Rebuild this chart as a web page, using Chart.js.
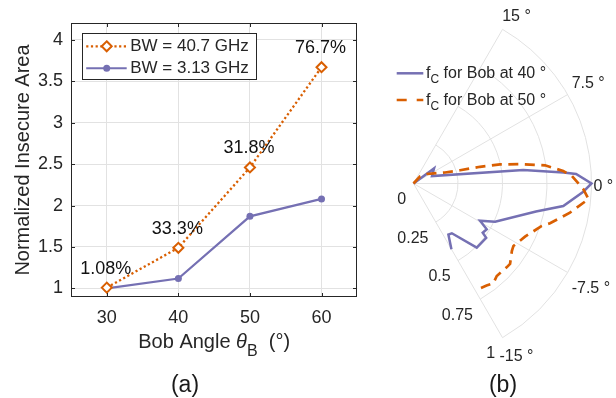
<!DOCTYPE html>
<html><head><meta charset="utf-8">
<script src="https://cdn.jsdelivr.net/npm/chart.js@4/dist/chart.umd.min.js"></script>
<style>
html,body{margin:0;padding:0;background:#fff;width:616px;height:398px;overflow:hidden;}
#wrap{position:relative;width:616px;height:398px;font-family:"Liberation Sans",Arial,sans-serif;color:#1a1a1a;}
#c1{position:absolute;left:0;top:0;width:370px;height:398px;}
#c2{position:absolute;left:370px;top:0;width:246px;height:398px;}
.cap{position:absolute;font-size:23px;line-height:23px;transform:translate(-50%,-50%);white-space:nowrap;}
</style></head><body>
<div id="wrap">
<canvas id="c1" width="370" height="398"></canvas>
<canvas id="c2" width="246" height="398"></canvas>
<div class="cap" style="left:185px;top:384px">(a)</div>
<div class="cap" style="left:503px;top:384px">(b)</div>
</div>
<script>
// ---------- data: panel (a) ----------
const bobAngles = [30, 40, 50, 60];
const wideBW = [1.01, 1.49, 2.46, 3.67];     // BW = 40.7 GHz
const narrowBW = [1.00, 1.12, 1.87, 2.08];   // BW = 3.13 GHz
const gainLabels = ['1.08%', '33.3%', '31.8%', '76.7%'];
const seriesNames = ['BW = 40.7 GHz', 'BW = 3.13 GHz'];
const xTicks = [30, 40, 50, 60];
const yTicks = [1, 1.5, 2, 2.5, 3, 3.5, 4];
const gainLabelOffset = 0.23;

// ---------- data: panel (b) (theta in degrees, normalized radius) ----------
const bob40Theta = [10, 9.05, 5.5, 1.75, 1.05, 0.84, 0, -0.69, -2.14, -3.22, -6.28, -7.3, -8.0, -8.85, -9.2, -11.35, -13.1, -13.9, -15];
const bob40R     = [0, 0.143, 0.112, 0.621, 0.844, 0.915, 1.0, 0.955, 0.851, 0.706, 0.506, 0.428, 0.485, 0.477, 0.510, 0.506, 0.353, 0.347, 0.426];
const bob50Theta = [10, 11.8, 8.8, 4.8, 3.96, 3.53, 3.1, 2.59, 1.97, 1.19, 0.68, -0.46, -1.27, -2.64, -4.06, -4.58, -6.37, -8.0, -8.6, -9.95, -10.5, -12.0, -12.85, -13.6, -15];
const bob50R     = [0, 0.054, 0.093, 0.188, 0.272, 0.385, 0.498, 0.608, 0.746, 0.844, 0.891, 0.954, 0.987, 0.894, 0.799, 0.759, 0.694, 0.662, 0.67, 0.706, 0.704, 0.699, 0.718, 0.705, 0.693];
const polarNames = ['for Bob at 40 °', 'for Bob at 50 °'];
const thetaTicks = [15, 7.5, 0, -7.5, -15];
const rTicks = [0, 0.25, 0.5, 0.75, 1];
const thetaStretch = 4; // the ±15° sector is drawn spanning ±60°

const FF = '"Liberation Sans", Arial, sans-serif';
const ORANGE = '#d95f02', PURPLE = '#7570b3', INK = '#262626', GRID = '#e2e2e2';

function richText(ctx, parts, x, baseline, align) {
  let total = 0;
  parts.forEach(p => { ctx.font = p.font; p.w = ctx.measureText(p.t).width; total += p.w + (p.gap || 0); });
  let cx = align === 'center' ? x - total / 2 : x;
  ctx.textAlign = 'left'; ctx.textBaseline = 'alphabetic';
  parts.forEach(p => { ctx.font = p.font; ctx.fillText(p.t, cx, baseline + (p.dy || 0)); cx += p.w + (p.gap || 0); });
}

// ---------- panel (a) ----------
const leftDecor = {
  id: 'leftDecor',
  afterDraw(chart) {
    const {ctx, chartArea: a, scales: {x, y}} = chart;
    ctx.save();
    const L = Math.round(a.left) + 0.5, T = Math.round(a.top) + 0.5, R = Math.round(a.right) - 0.5, B = Math.round(a.bottom) - 0.5;
    ctx.strokeStyle = INK; ctx.lineWidth = 1;
    ctx.strokeRect(L, T, R - L, B - T);
    const tl = 3.5;
    ctx.beginPath();
    xTicks.forEach(v => { const p = Math.round(x.getPixelForValue(v)) + 0.5; ctx.moveTo(p, B); ctx.lineTo(p, B - tl); ctx.moveTo(p, T); ctx.lineTo(p, T + tl); });
    yTicks.forEach(v => { const p = Math.round(y.getPixelForValue(v)) + 0.5; ctx.moveTo(L, p); ctx.lineTo(L + tl, p); ctx.moveTo(R, p); ctx.lineTo(R - tl, p); });
    ctx.stroke();
    // gain annotations
    ctx.fillStyle = '#111'; ctx.font = '18px ' + FF; ctx.textAlign = 'center'; ctx.textBaseline = 'middle';
    bobAngles.forEach((v, i) => ctx.fillText(gainLabels[i], x.getPixelForValue(v) - 1, y.getPixelForValue(wideBW[i] + gainLabelOffset)));
    // x title with subscript
    ctx.fillStyle = INK;
    richText(ctx, [
      {t: 'Bob Angle ', font: '20px ' + FF},
      {t: 'θ', font: 'italic 20px ' + FF},
      {t: 'B', font: '16px ' + FF, dy: 8},
      {t: '  (°)', font: '20px ' + FF}
    ], (a.left + a.right) / 2, a.bottom + 51, 'center');
    // legend
    const lx = a.left + 10.7, ly = a.top + 10;
    ctx.fillStyle = '#fff'; ctx.fillRect(lx, ly, 174.3, 46.7);
    ctx.strokeStyle = INK; ctx.lineWidth = 1;
    ctx.strokeRect(Math.round(lx) + 0.5, Math.round(ly) + 0.5, 174, 46);
    const rows = [ly + 13, ly + 35];
    const x0 = lx + 4.5, x1 = lx + 45, xm = lx + 25;
    // row 1
    ctx.strokeStyle = ORANGE; ctx.lineWidth = 2.3; ctx.setLineDash([2.2, 2.5]);
    ctx.beginPath(); ctx.moveTo(x0, rows[0]); ctx.lineTo(x1, rows[0]); ctx.stroke();
    ctx.setLineDash([]); ctx.lineWidth = 2; ctx.fillStyle = '#fff';
    ctx.beginPath(); ctx.moveTo(xm, rows[0] - 5); ctx.lineTo(xm + 5, rows[0]); ctx.lineTo(xm, rows[0] + 5); ctx.lineTo(xm - 5, rows[0]); ctx.closePath(); ctx.fill(); ctx.stroke();
    // row 2
    ctx.strokeStyle = PURPLE; ctx.lineWidth = 2;
    ctx.beginPath(); ctx.moveTo(x0, rows[1]); ctx.lineTo(x1, rows[1]); ctx.stroke();
    ctx.fillStyle = PURPLE; ctx.beginPath(); ctx.arc(xm, rows[1], 3.5, 0, Math.PI * 2); ctx.fill();
    ctx.fillStyle = INK; ctx.font = '17px ' + FF; ctx.textAlign = 'left'; ctx.textBaseline = 'middle';
    seriesNames.forEach((s, i) => ctx.fillText(s, lx + 48.5, rows[i]));
    ctx.restore();
  }
};

new Chart(document.getElementById('c1'), {
  type: 'scatter',
  data: {
    datasets: [
      {label: seriesNames[0], data: bobAngles.map((v, i) => ({x: v, y: wideBW[i]})), showLine: true,
       borderColor: ORANGE, borderWidth: 2.3, borderDash: [2.2, 2.5],
       pointStyle: 'rectRot', pointRadius: 5, pointBorderWidth: 2, pointBackgroundColor: '#fff', pointBorderColor: ORANGE},
      {label: seriesNames[1], data: bobAngles.map((v, i) => ({x: v, y: narrowBW[i]})), showLine: true,
       borderColor: PURPLE, borderWidth: 2.2,
       pointStyle: 'circle', pointRadius: 3.5, pointBorderWidth: 0, pointBackgroundColor: PURPLE, pointBorderColor: PURPLE}
    ]
  },
  options: {
    responsive: false, animation: false, events: [],
    layout: {padding: {left: 0, right: 12.7, top: 23.3, bottom: 0}, autoPadding: false},
    plugins: {legend: {display: false}, tooltip: {enabled: false}},
    scales: {
      x: {
        type: 'linear', min: 25, max: 65,
        afterBuildTicks: s => { s.ticks = xTicks.map(v => ({value: v})); },
        afterFit: s => { s.height = 101.3; },
        grid: {color: GRID, drawTicks: false},
        border: {display: false},
        ticks: {padding: 11, color: INK, font: {family: FF, size: 18}, maxRotation: 0, autoSkip: false, callback: v => String(v)}
      },
      y: {
        type: 'linear', min: 0.9, max: 4.2,
        afterBuildTicks: s => { s.ticks = yTicks.map(v => ({value: v})); },
        afterFit: s => { s.width = 71; },
        grid: {color: GRID, drawTicks: false},
        border: {display: false},
        title: {display: true, text: 'Normalized Insecure Area', color: INK, font: {family: FF, size: 20}, padding: {top: 11, bottom: 0}},
        ticks: {padding: 8, color: INK, font: {family: FF, size: 18}, autoSkip: false, callback: v => String(v)}
      }
    }
  },
  plugins: [leftDecor]
});

// ---------- panel (b) ----------
function polarXY(thetaDeg, r) {
  const a = thetaDeg * thetaStretch * Math.PI / 180;
  return {x: r * Math.cos(a), y: r * Math.sin(a)};
}
const thetaLabelNudge = {'15': [14, -12.6, 'center'], '7.5': [4, -11, 'left'], '0': [2, 3, 'left'], '-7.5': [4, 16, 'left'], '-15': [14, 19, 'center']};

const polarDecor = {
  id: 'polarDecor',
  beforeDatasetsDraw(chart) {
    const {ctx, scales: {x, y}} = chart;
    const cx = x.getPixelForValue(0), cy = y.getPixelForValue(0);
    const unit = x.getPixelForValue(1) - cx;
    const span = thetaTicks[0] * thetaStretch * Math.PI / 180;
    ctx.save();
    ctx.strokeStyle = GRID; ctx.lineWidth = 1;
    rTicks.forEach(r => { if (r <= 0) return; ctx.beginPath(); ctx.arc(cx, cy, r * unit, -span, span); ctx.stroke(); });
    const rMax = rTicks[rTicks.length - 1];
    thetaTicks.forEach(t => {
      const p = polarXY(t, rMax);
      ctx.beginPath(); ctx.moveTo(cx, cy); ctx.lineTo(x.getPixelForValue(p.x), y.getPixelForValue(p.y)); ctx.stroke();
    });
    ctx.restore();
  },
  afterDraw(chart) {
    const {ctx, scales: {x, y}} = chart;
    const rMax = rTicks[rTicks.length - 1];
    ctx.save();
    ctx.fillStyle = INK; ctx.font = '16px ' + FF; ctx.textBaseline = 'middle';
    thetaTicks.forEach(t => {
      const p = polarXY(t, rMax);
      const n = thetaLabelNudge[String(t)];
      ctx.textAlign = n[2];
      ctx.fillText(t + ' °', x.getPixelForValue(p.x) + n[0], y.getPixelForValue(p.y) + n[1]);
    });
    const edge = thetaTicks[thetaTicks.length - 1];
    ctx.textAlign = 'right';
    rTicks.forEach(r => {
      const p = polarXY(edge, r);
      ctx.fillText(String(r), x.getPixelForValue(p.x) - 7.3, y.getPixelForValue(p.y) + 16.2);
    });
    // legend
    const rows = [73.3, 100];
    ctx.lineWidth = 2.5;
    ctx.strokeStyle = PURPLE; ctx.setLineDash([]);
    ctx.beginPath(); ctx.moveTo(26.7, rows[0]); ctx.lineTo(53.3, rows[0]); ctx.stroke();
    ctx.strokeStyle = ORANGE; ctx.setLineDash([10, 10]);
    ctx.beginPath(); ctx.moveTo(26.7, rows[1]); ctx.lineTo(53.3, rows[1]); ctx.stroke();
    ctx.setLineDash([]);
    ctx.fillStyle = INK;
    polarNames.forEach((s, i) => richText(ctx, [
      {t: 'f', font: '16px ' + FF},
      {t: 'C', font: '12px ' + FF, dy: 5, gap: 4.5},
      {t: s, font: '16px ' + FF}
    ], 56, rows[i] + 4.5, 'left'));
    ctx.restore();
  }
};

new Chart(document.getElementById('c2'), {
  type: 'scatter',
  data: {
    datasets: [
      {label: 'Bob at 50', data: bob50Theta.map((t, i) => polarXY(t, bob50R[i])), showLine: true,
       borderColor: ORANGE, borderWidth: 2.7, borderDash: [10, 6.5], pointRadius: 0, tension: 0},
      {label: 'Bob at 40', data: bob40Theta.map((t, i) => polarXY(t, bob40R[i])), showLine: true,
       borderColor: PURPLE, borderWidth: 2.5, pointRadius: 0, tension: 0}
    ]
  },
  options: {
    responsive: false, animation: false, events: [],
    layout: {padding: 0, autoPadding: false},
    plugins: {legend: {display: false}, tooltip: {enabled: false}},
    scales: {
      x: {type: 'linear', display: false, min: -0.2444, max: 1.1376},
      y: {type: 'linear', display: false, min: -1.205, max: 1.0309}
    }
  },
  plugins: [polarDecor]
});
</script>
</body></html>
